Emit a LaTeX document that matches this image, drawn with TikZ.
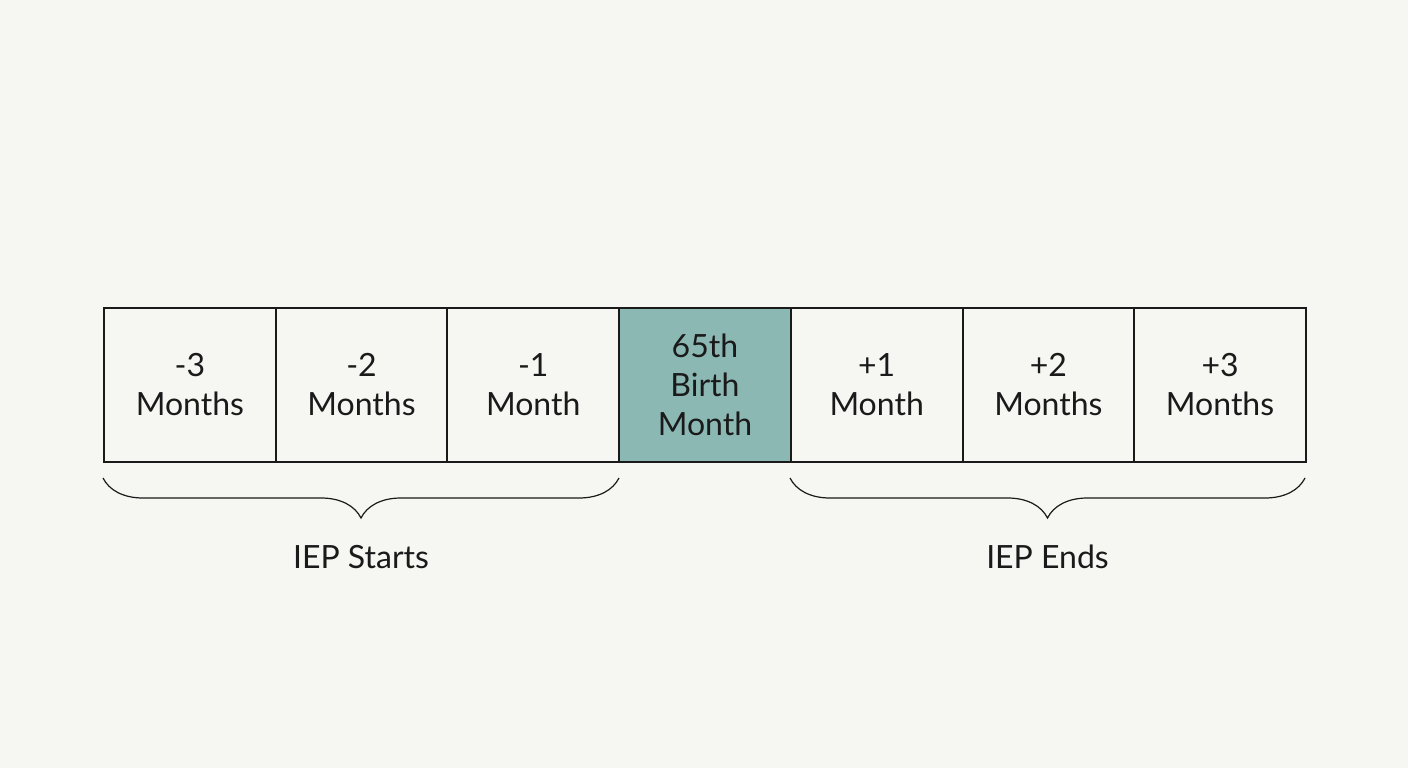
\documentclass[tikz,border=0pt]{standalone}
\usepackage{fontspec}
\setmainfont{Lato}
\usetikzlibrary{decorations.pathreplacing}
\definecolor{bg}{HTML}{F6F6F2}
\definecolor{teal}{HTML}{8BB8B3}
\definecolor{ink}{HTML}{1A1A1A}
\begin{document}
\begin{tikzpicture}[x=1pt,y=-1pt,
  cell/.style={draw=ink,line width=2pt,minimum width=171.7pt,minimum height=154pt,inner sep=0pt,align=center,font=\fontsize{32}{39}\selectfont,text=ink,anchor=north west},
  br/.style={draw=ink,line width=1.2pt,decorate,decoration={brace,mirror,amplitude=40pt,aspect=0.5}},
  lab/.style={font=\fontsize{32}{37}\selectfont,text=ink}]
\fill[bg] (0,0) rectangle (1408,768);
\useasboundingbox (0,0) rectangle (1408,768);
\node[cell] (c1) at (103,307) {-3\\Months};
\node[cell] (c2) at (274.7,307) {-2\\Months};
\node[cell] (c3) at (446.4,307) {-1\\Month};
\node[cell,fill=teal] (c4) at (618.1,307) {65th\\Birth\\Month};
\node[cell] (c5) at (789.8,307) {+1\\Month};
\node[cell] (c6) at (961.5,307) {+2\\Months};
\node[cell] (c7) at (1133.2,307) {+3\\Months};
\coordinate (a1) at (103,478); \coordinate (a2) at (619,478);
\coordinate (b1) at (790,478); \coordinate (b2) at (1305,478);
\draw[br] (a1) -- (a2) node[midway,below=63pt,lab] (l1) {IEP Starts};
\draw[br] (b1) -- (b2) node[midway,below=63pt,lab] (l2) {IEP Ends};
\end{tikzpicture}
\end{document}
